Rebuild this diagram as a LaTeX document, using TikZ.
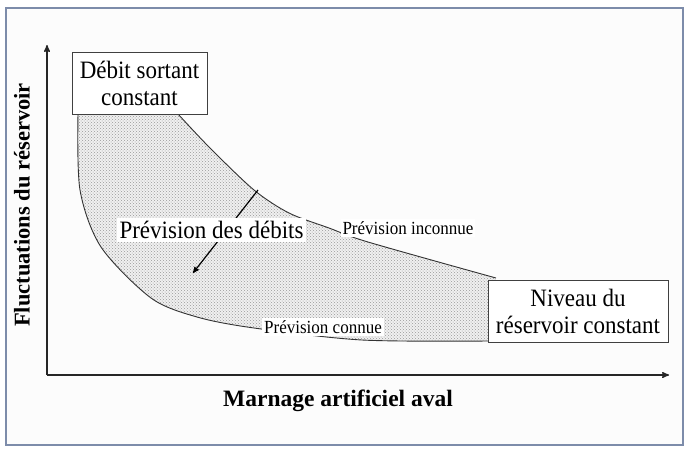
\documentclass[tikz,border=0pt]{standalone}
\usepackage{fontspec}
\setmainfont{Liberation Serif}
\newfontfamily\narrowserif{Liberation Serif}[FakeStretch=0.92]
\usetikzlibrary{arrows,patterns,positioning}

\begin{document}
\begin{tikzpicture}[x=1pt, y=-1pt, >=stealth', semithick]
\tikzstyle{box}=[draw=black!75, fill=white, thin, align=center, inner sep=0pt, font=\narrowserif\fontsize{25}{27}\selectfont]
\tikzstyle{lbl}=[fill=white, inner sep=2pt, font=\narrowserif\fontsize{18.5}{20}\selectfont]
\tikzstyle{axis}=[->, line width=1.4pt, black!85]
\tikzstyle{curve}=[black!80, line width=0.9pt]
\useasboundingbox (0,0) rectangle (688,448);
\draw[color={rgb,255:red,125;green,140;blue,170}, line width=1.6pt, fill=black!1] (6,8) rectangle (683,445);
% axes
\coordinate (O) at (47,375);
\draw[axis] (O) -- (47,45);
\draw[axis] (O) -- (669,375);
% zone between the two curves
\path[pattern=crosshatch dots, pattern color=black!40, preaction={fill=black!6}]
  plot[smooth] coordinates {(178,114) (210,148) (254,190) (289,213) (329,228) (368,242) (496,278)}
  -- (488,342) --
  plot[smooth] coordinates {(488,341) (362,340) (254,328) (197,317) (151,298) (101,247) (80,190) (78,114)} -- cycle;
\draw[curve] plot[smooth] coordinates {(178,114) (210,148) (254,190) (289,213) (329,228) (368,242) (496,278)};
\draw[curve] plot[smooth] coordinates {(78,114) (80,190) (101,247) (151,298) (197,317) (254,328) (362,340) (488,341)};
\coordinate (fa) at (258,190);
\coordinate (fb) at (193,273);
\draw[->, line width=1.2pt] (fa) -- (fb);
% labels
\node[box, minimum width=135pt, minimum height=62pt] (debit) at (139.5,83) {Débit sortant\\constant};
\node[box, minimum width=180pt, minimum height=62pt] (niveau) at (578,311) {Niveau du\\réservoir constant};
\node[lbl, inner sep=3pt, font=\narrowserif\fontsize{25}{27}\selectfont] (prev) at (211.5,230) {Prévision des débits};
\node[lbl] (inc) at (408,228) {Prévision inconnue};
\node[lbl] (con) at (323,327) {Prévision connue};
\node[font=\bfseries\fontsize{23.5}{27}\selectfont] (xlab) at (338,401) {Marnage artificiel aval};
\node[font=\bfseries\fontsize{22.5}{27}\selectfont, rotate=90] (ylab) at (22,205) {Fluctuations du réservoir};
\end{tikzpicture}
\end{document}
